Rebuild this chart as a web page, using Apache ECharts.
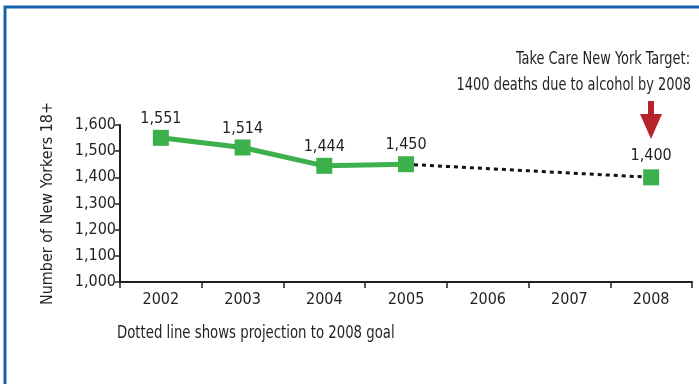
<!DOCTYPE html>
<html>
<head>
<meta charset="utf-8">
<script src="https://cdn.jsdelivr.net/npm/echarts@6/dist/echarts.min.js"></script>
<style>
  html, body { margin: 0; padding: 0; background: #ffffff; }
  #chart { width: 699px; height: 384px; }
</style>
</head>
<body>
<div id="chart"></div>
<script>
// Alcohol-related deaths among New Yorkers 18+, with the 2008 target
const years = ['2002', '2003', '2004', '2005', '2006', '2007', '2008'];
const observed = [1551, 1514, 1444, 1450, null, null, null];
const projection = [null, null, null, 1450, null, null, 1400];
const yTicks = [1000, 1100, 1200, 1300, 1400, 1500, 1600];

const FONT = "'Liberation Sans Narrow', 'DejaVu Sans Condensed', 'Noto Sans', sans-serif";
const INK = '#231f20';
const GREEN = '#3cb04a';

const fmt = v => Number(v).toLocaleString('en-US');

const chart = echarts.init(document.getElementById('chart'), null, { renderer: 'canvas' });

chart.setOption({
  animation: false,
  backgroundColor: '#ffffff',
  textStyle: { fontFamily: FONT, color: INK },
  grid: { left: 120, right: 7, top: 125, bottom: 102, containLabel: false },
  xAxis: {
    type: 'category',
    data: years,
    boundaryGap: true,
    axisLine: { lineStyle: { color: INK, width: 2 } },
    axisTick: { show: true, length: 6, inside: false, lineStyle: { color: INK, width: 1.5 } },
    axisLabel: { fontFamily: FONT, fontSize: 16, color: INK, margin: 10 },
    splitLine: { show: false }
  },
  yAxis: {
    type: 'value',
    min: yTicks[0],
    max: yTicks[yTicks.length - 1],
    interval: 100,
    name: 'Number of New Yorkers 18+',
    nameLocation: 'middle',
    nameGap: 64,
    nameRotate: 90,
    nameTextStyle: { fontFamily: FONT, fontSize: 16, color: INK },
    axisLine: { show: true, lineStyle: { color: INK, width: 2 } },
    axisTick: { show: true, length: 5, lineStyle: { color: INK, width: 1.5 } },
    axisLabel: { fontFamily: FONT, fontSize: 16, color: INK, margin: 4, formatter: v => fmt(v) },
    splitLine: { show: false }
  },
  series: [
    {
      name: 'Projection',
      type: 'line',
      data: projection.map((v, i) => v === null ? '-' : {
        value: v,
        symbolSize: i === years.length - 1 ? 16 : 0,
        label: { show: i === years.length - 1 }
      }),
      connectNulls: true,
      symbol: 'rect',
      itemStyle: { color: GREEN },
      lineStyle: { color: '#111111', width: 3, type: [4, 4] },
      label: {
        position: 'top', distance: 5, fontFamily: FONT, fontSize: 16, color: INK,
        formatter: p => fmt(p.value)
      },
      z: 2
    },
    {
      name: 'Observed',
      type: 'line',
      data: observed.map(v => v === null ? '-' : v),
      symbol: 'rect',
      symbolSize: 16,
      itemStyle: { color: GREEN },
      lineStyle: { color: GREEN, width: 5 },
      label: {
        show: true, position: 'top', distance: 3, fontFamily: FONT, fontSize: 16, color: INK,
        formatter: p => fmt(p.value)
      },
      z: 3
    }
  ],
  graphic: [
    // blue frame
    { type: 'rect', shape: { x: 5, y: 7, width: 720, height: 400 }, style: { fill: 'none', stroke: '#1464ad', lineWidth: 3 } },
    // target annotation, right-aligned and condensed
    { type: 'text', x: 690, y: 59, scaleX: 0.8,
      style: { text: 'Take Care New York Target:', fontFamily: FONT, fontSize: 18, fill: INK, textAlign: 'right', textVerticalAlign: 'middle' } },
    { type: 'text', x: 691, y: 85, scaleX: 0.8,
      style: { text: '1400 deaths due to alcohol by 2008', fontFamily: FONT, fontSize: 18, fill: INK, textAlign: 'right', textVerticalAlign: 'middle' } },
    // red arrow pointing at the target
    { type: 'polygon', shape: { points: [[648, 101], [654, 101], [654, 114], [662, 114], [651, 139], [640, 114], [648, 114]] }, style: { fill: '#b8232b' } },
    // footnote
    { type: 'text', x: 117, y: 333, scaleX: 0.82,
      style: { text: 'Dotted line shows projection to 2008 goal', fontFamily: FONT, fontSize: 18, fill: INK, textAlign: 'left', textVerticalAlign: 'middle' } }
  ]
});
</script>
</body>
</html>
